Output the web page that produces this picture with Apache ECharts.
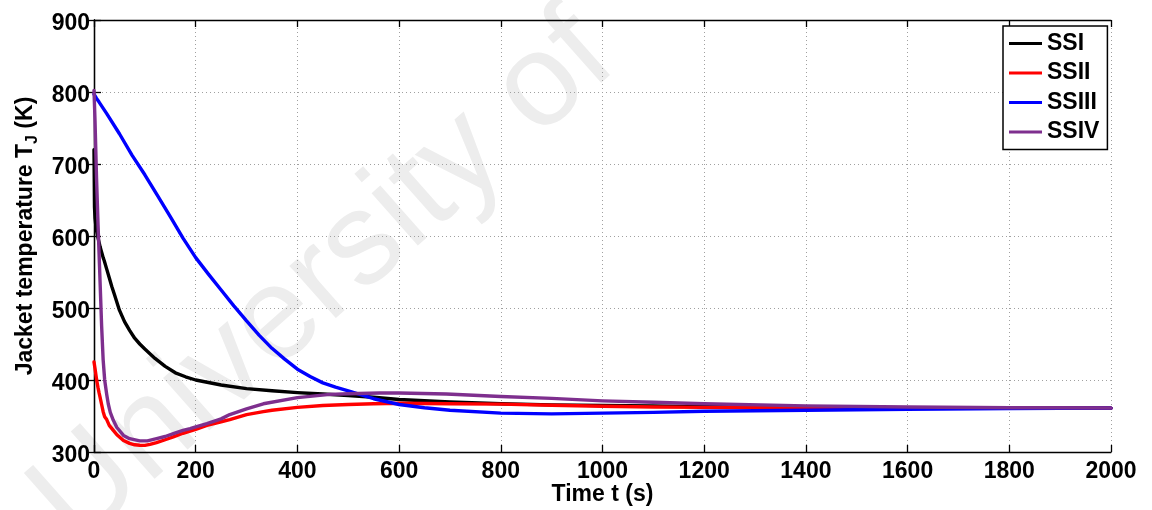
<!DOCTYPE html>
<html>
<head>
<meta charset="utf-8">
<script src="https://cdn.jsdelivr.net/npm/echarts@6/dist/echarts.min.js"></script>
<style>
html,body{margin:0;padding:0;background:#fff;}
#chart{width:1152px;height:510px;}
</style>
</head>
<body>
<div id="chart"></div>
<script>
// ---- data ----
const seriesNames = ['SSI', 'SSII', 'SSIII', 'SSIV'];
const seriesColors = ['#000000', '#ff0000', '#0000ff', '#7e2f8e'];

const ssiTime = [0,1,2,4,6,8,10,12,14,16,18,20,25,30,35,40,50,60,70,80,90,100,120,140,160,180,200,250,300,350,400,450,500,550,600,700,800,900,1000,1100,1200,1400,1600,1800,2000];
const ssiTemp = [720,640,625,612,604,597,591,585,580,575,570,566,554,542,530,519,497,481,469,458,450,443,430,419,410,404.5,400,393,388,385,382.5,380.5,378.5,376,373,369.5,367,365.5,364.5,363.8,363,362,361.5,361,361];

const ssiiTime = [0,2,4,6,8,10,12,15,18,21,25,30,38,45,58,70,80,90,100,110,123,140,156,175,189,200,222,250,267,300,333,350,400,450,500,550,600,700,800,900,1000,1100,1200,1400,1600,1800,2000];
const ssiiTemp = [425,416,406,397,389,382,376,366,356,349,345,337,330,324,316,312,310,309.3,309.2,310.5,313,317,321,326,329,331.5,337,342,345,352,356,358,362,364.5,366,367,367.8,367,366.5,365,363.5,362.5,362,361.3,361,361,361];

const ssiiiTime = [0,5,10,25,50,75,100,125,150,175,200,225,250,275,300,325,350,375,400,425,450,475,500,550,600,650,700,800,900,1000,1100,1200,1400,1600,1800,2000];
const ssiiiTemp = [797,791,786,770,742,712,685,656,627,597,570,547,525,503,482,462,444,429,415,405,396,390,385,374,366,361.5,358,354,353,354,355,356.5,358,359.3,360.5,361];

const ssivTime = [0,2,5,8,12,15,18,21,25,28,32,38,45,58,70,90,105,123,140,156,175,189,200,222,250,267,300,333,400,464,500,562,600,693,800,900,1000,1100,1200,1400,1600,1800,2000];
const ssivTemp = [802,760,680,615,535,475,428,400,380,367,355,344,334,323,318.5,315.4,315.5,318.5,321.5,325.5,330,332.5,335,339.4,346,352,360,367,375.5,380,381,382,382,380.5,377,374.5,371,369,367,364,362.5,361.5,361];

const xTicks = {min: 0, max: 2000, interval: 200};
const yTicks = {min: 300, max: 900, interval: 100};
const xTitle = 'Time t (s)';
const yTitleMain = 'Jacket temperature T';
const yTitleSub = 'J';
const yTitleTail = ' (K)';
const watermarkText = 'University of';

// ---- build chart ----
function pairs(ts, vs) { return ts.map((t, i) => [t, vs[i]]); }
const seriesData = [pairs(ssiTime, ssiTemp), pairs(ssiiTime, ssiiTemp), pairs(ssiiiTime, ssiiiTemp), pairs(ssivTime, ssivTemp)];

const FONT = '"Liberation Sans", Arial, Helvetica, sans-serif';
const chart = echarts.init(document.getElementById('chart'), null, {renderer: 'canvas'});

const gridSplit = {show: true, lineStyle: {color: '#a0a0a0', width: 1, type: [1, 3]}};
const axisLineStyle = {show: true, lineStyle: {color: '#000', width: 1.3}};
const tickStyle = {show: true, inside: true, length: 7, lineStyle: {color: '#000', width: 1.3}};

chart.setOption({
  animation: false,
  backgroundColor: '#ffffff',
  graphic: [{
    type: 'text',
    x: 96, y: 570,
    rotation: 0.725,
    z: -10,
    silent: true,
    style: {text: watermarkText, font: 'normal 132px ' + FONT, fill: '#ededed', textAlign: 'left', textVerticalAlign: 'bottom'}
  }],
  grid: {left: 94, right: 41, top: 20, bottom: 58, containLabel: false, outerBoundsMode: 'none'},
  legend: {
    orient: 'vertical',
    left: 1003, top: 26,
    padding: [6, 8, 6, 6],
    icon: 'rect',
    itemWidth: 33, itemHeight: 3, itemGap: 6.5,
    backgroundColor: '#fff',
    borderColor: '#000', borderWidth: 1.5,
    textStyle: {fontFamily: FONT, fontWeight: 'bold', fontSize: 23, lineHeight: 23, color: '#000'},
    data: seriesNames
  },
  xAxis: [{
    type: 'value', position: 'bottom',
    min: xTicks.min, max: xTicks.max, interval: xTicks.interval,
    axisLine: axisLineStyle, axisTick: tickStyle, splitLine: gridSplit,
    axisLabel: {color: '#000', fontFamily: FONT, fontWeight: 'bold', fontSize: 23, margin: 8, formatter: v => String(v)},
    name: xTitle, nameLocation: 'middle', nameGap: 31, nameMoveOverlap: false,
    nameTextStyle: {color: '#000', fontFamily: FONT, fontWeight: 'bold', fontSize: 23}
  }, {
    type: 'value', position: 'top',
    min: xTicks.min, max: xTicks.max, interval: xTicks.interval,
    axisLine: axisLineStyle, axisTick: tickStyle, splitLine: {show: false},
    axisLabel: {show: false}
  }],
  yAxis: [{
    type: 'value', position: 'left',
    min: yTicks.min, max: yTicks.max, interval: yTicks.interval,
    axisLine: axisLineStyle, axisTick: tickStyle, splitLine: gridSplit,
    axisLabel: {color: '#000', fontFamily: FONT, fontWeight: 'bold', fontSize: 23, margin: 4, verticalAlign: 'top', lineHeight: 8, formatter: v => String(v)},
    name: '{a|' + yTitleMain + '}{s|' + yTitleSub + '}{a|' + yTitleTail + '}',
    nameLocation: 'middle', nameGap: 49, nameRotate: 90,
    nameTextStyle: {
      color: '#000',
      rich: {
        a: {fontFamily: FONT, fontWeight: 'bold', fontSize: 23, color: '#000', lineHeight: 30, verticalAlign: 'middle'},
        s: {fontFamily: FONT, fontWeight: 'bold', fontSize: 16, color: '#000', lineHeight: 30, verticalAlign: 'middle', padding: [14, 0, 0, 0]}
      }
    }
  }, {
    type: 'value', position: 'right',
    min: yTicks.min, max: yTicks.max, interval: yTicks.interval,
    axisLine: axisLineStyle, axisTick: tickStyle, splitLine: {show: false},
    axisLabel: {show: false}
  }],
  series: seriesNames.map((n, i) => ({
    name: n, type: 'line', data: seriesData[i],
    xAxisIndex: 0, yAxisIndex: 0,
    showSymbol: false, symbol: 'none',
    smooth: false,
    color: seriesColors[i],
    itemStyle: {color: seriesColors[i]},
    lineStyle: {color: seriesColors[i], width: 3.4, join: 'round', cap: 'round'},
    z: 2 + i
  }))
});
</script>
</body>
</html>
